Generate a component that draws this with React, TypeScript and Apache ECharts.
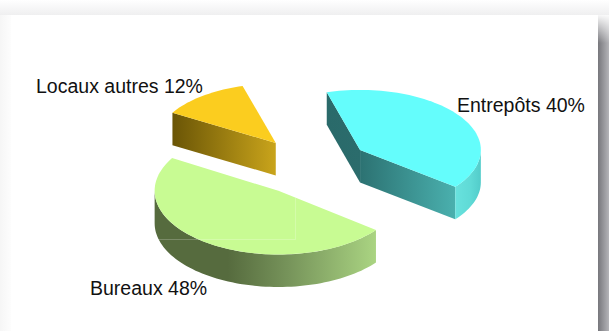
import React, { useEffect, useRef } from "react";
import * as echarts from "echarts";

const categories = ["Entrepôts", "Bureaux", "Locaux autres"];
const shares = [40, 48, 12];

const WIDTH = 609;
const HEIGHT = 331;

// Pie projection: a flattened disc, with the slices pulled away from its centre.
const CENTRE_X = 311.5;
const CENTRE_Y = 166.4;
const RADIUS_X = 122;
const RADIUS_Y = 61.5;
const DEPTH = 32.5;
const EXPLODE = 0.48;
const FIRST_ANGLE = -16;
const PERSPECTIVE_X = 0.0006;
const PERSPECTIVE_Y = 0.0015;

type Stops = [number, string][];
const sliceLooks: { top: string; startWall: Stops; endWall: Stops; rim: Stops; labelX: number; labelY: number }[] = [
  {
    top: "#64fdfc",
    startWall: [[0, "#2a6a6a"], [1, "#2b6c6c"]],
    endWall: [[0, "#2c7272"], [1, "#4ab0ae"]],
    rim: [[0, "#68e2de"], [0.6, "#5fdad6"], [1, "#52ccca"]],
    labelX: 457,
    labelY: 105,
  },
  {
    top: "#c8fb93",
    startWall: [[0, "#566b3e"], [1, "#566b3e"]],
    endWall: [[0, "#566b3e"], [1, "#566b3e"]],
    rim: [[0, "#566b3e"], [0.33, "#566b3e"], [0.6, "#76935a"], [1, "#aad482"]],
    labelX: 90,
    labelY: 288,
  },
  {
    top: "#fbcd1f",
    startWall: [[0, "#6a5506"], [1, "#c9a41b"]],
    endWall: [[0, "#6a5506"], [1, "#c9a41b"]],
    rim: [[0, "#6a5506"], [1, "#6a5506"]],
    labelX: 36,
    labelY: 86,
  },
];

const total = shares.reduce((a, b) => a + b, 0);
const rad = (deg: number) => (deg * Math.PI) / 180;

function sliceAngles(index: number) {
  const before = shares.slice(0, index).reduce((a, b) => a + b, 0);
  const start = FIRST_ANGLE + (before / total) * 360;
  return { start, end: start + (shares[index] / total) * 360 };
}

const horizontalFill = (stops: Stops) =>
  new echarts.graphic.LinearGradient(0, 0, 1, 0, stops.map(([offset, color]) => ({ offset, color })));

function renderSlice(params: any, api: any) {
  const index = params.dataIndex;
  const look = sliceLooks[index];
  const { start, end } = sliceAngles(index);
  const mid = (start + end) / 2;

  const apexX = CENTRE_X + EXPLODE * RADIUS_X * Math.sin(rad(mid));
  const apexY = CENTRE_Y - EXPLODE * RADIUS_Y * Math.cos(rad(mid));
  const scaleX = 1 + PERSPECTIVE_X * (apexY - CENTRE_Y);
  const scaleY = 1 + PERSPECTIVE_Y * (apexY - CENTRE_Y);
  const rim = (deg: number): number[] => [
    apexX + RADIUS_X * scaleX * Math.sin(rad(deg)),
    apexY - RADIUS_Y * scaleY * Math.cos(rad(deg)),
  ];
  const below = (p: number[]) => [p[0], p[1] + DEPTH];
  const arc = (from: number, to: number) => {
    const steps = Math.max(2, Math.ceil(Math.abs(to - from) / 2));
    const out: number[][] = [];
    for (let i = 0; i <= steps; i++) out.push(rim(from + ((to - from) * i) / steps));
    return out;
  };

  const apex = [apexX, apexY];
  const children: any[] = [];
  const addFace = (points: number[][], fill: any) =>
    children.push({ type: "polygon", shape: { points }, style: { fill, stroke: "none" } });

  // Only the faces turned towards the viewer are drawn.
  if (Math.sin(rad(start)) < 0) {
    addFace([rim(start), apex, below(apex), below(rim(start))], horizontalFill(look.startWall));
  }
  if (Math.sin(rad(end)) > 0) {
    addFace([apex, rim(end), below(rim(end)), below(apex)], horizontalFill(look.endWall));
  }
  const rimFrom = Math.max(start, 90);
  const rimTo = Math.min(end, 270);
  if (rimTo > rimFrom) {
    const edge = arc(rimFrom, rimTo);
    addFace([...edge, ...edge.map(below).reverse()], horizontalFill(look.rim));
  }
  addFace([apex, ...arc(start, end)], look.top);

  children.push({
    type: "text",
    style: {
      x: look.labelX,
      y: look.labelY,
      text: `${categories[index]} ${api.value(0)}%`,
      fill: "#111111",
      font: '19.5px "Liberation Sans", Arial, sans-serif',
      textAlign: "left",
      textVerticalAlign: "middle",
    },
  });
  return { type: "group", children };
}

const verticalFade = (stops: Stops) =>
  new echarts.graphic.LinearGradient(0, 0, 0, 1, stops.map(([offset, color]) => ({ offset, color })));

export default function App() {
  const holder = useRef<HTMLDivElement>(null);

  useEffect(() => {
    const chart = echarts.init(holder.current!, null, { renderer: "svg" });
    chart.setOption({
      animation: false,
      backgroundColor: "#ffffff",
      graphic: [
        // Drop shadow around the white sheet.
        {
          type: "rect",
          z: 0,
          shape: { x: 0, y: 0, width: WIDTH, height: 15 },
          style: { fill: verticalFade([[0, "#ffffff"], [1, "#efeff0"]]) },
        },
        {
          type: "rect",
          z: 0,
          shape: { x: 0, y: 15, width: 11, height: HEIGHT - 15 },
          style: { fill: horizontalFill([[0, "#f6f6f6"], [1, "#fdfdfd"]]) },
        },
        {
          type: "rect",
          z: 0,
          shape: { x: 598, y: 15, width: 11, height: HEIGHT - 15 },
          style: { fill: horizontalFill([[0, "#77777c"], [1, "#b4b4b8"]]) },
        },
        {
          type: "rect",
          z: 0,
          shape: { x: 598, y: 15, width: 11, height: 28 },
          style: { fill: verticalFade([[0, "rgba(255,255,255,0.95)"], [1, "rgba(255,255,255,0)"]]) },
        },
        {
          type: "rect",
          z: 0,
          shape: { x: 11, y: 15, width: 587, height: HEIGHT - 15 },
          style: { fill: "#ffffff" },
        },
        // Faint seam left in the shaded area of the large slice.
        {
          type: "polyline",
          z: 5,
          shape: { points: [[295.5, 198], [295.5, 239.5], [156, 239.5]] },
          style: { stroke: "rgba(255,255,255,0.22)", lineWidth: 1, fill: "none" },
        },
      ],
      series: [
        {
          type: "custom",
          coordinateSystem: "none",
          z: 2,
          data: shares,
          renderItem: renderSlice,
        },
      ],
    });
    return () => chart.dispose();
  }, []);

  return (
    <div
      ref={holder}
      style={{ position: "fixed", left: 0, top: 0, width: WIDTH, height: HEIGHT }}
    />
  );
}
